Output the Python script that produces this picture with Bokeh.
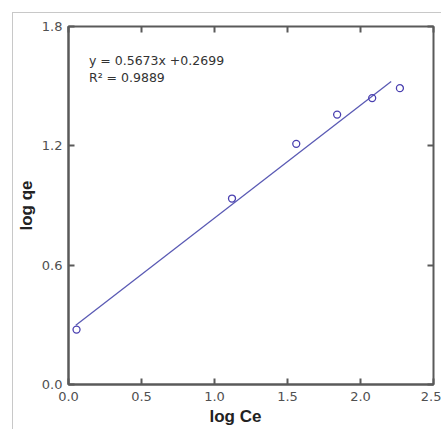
from bokeh.plotting import figure
from bokeh.models import Range1d, FixedTicker, NumeralTickFormatter, LinearAxis, Title
from bokeh.embed import file_html
from bokeh.resources import INLINE
from bokeh.core.properties import value

# data
log_ce = [0.055, 1.12, 1.56, 1.84, 2.08, 2.27]
log_qe = [0.276, 0.935, 1.21, 1.357, 1.44, 1.49]
slope = 0.5673
intercept = 0.2699
fit_x = [0.05, 2.21]
fit_y = [slope * v + intercept for v in fit_x]
x_ticks = [0.0, 0.5, 1.0, 1.5, 2.0, 2.5]
y_ticks = [0.0, 0.6, 1.2, 1.8]
eq_text = "y = 0.5673x +0.2699"
r2_text = "R² = 0.9889"

FONT = "Liberation Sans"
TFONT = "DejaVu Sans"
AX = "#5a5a5a"

p = figure(width=429, height=417, output_backend="svg", toolbar_location=None,
           x_range=Range1d(0, 2.5), y_range=Range1d(0, 1.8),
           min_border_left=55, min_border_top=13, min_border_right=9, min_border_bottom=46,
           margin=(12, 0, 0, 12),
           styles={"border-left": "1px solid #c8c8c8", "border-top": "1px solid #c8c8c8"})
p.grid.visible = False
p.outline_line_color = AX
p.outline_line_width = 2
p.background_fill_color = "white"
p.border_fill_color = "white"

for ax in (p.xaxis[0], p.yaxis[0]):
    ax.major_tick_in = 6
    ax.major_tick_out = 0
    ax.minor_tick_line_color = None
    ax.axis_line_color = AX
    ax.axis_line_width = 2
    ax.major_tick_line_color = AX
    ax.major_tick_line_width = 2
    ax.major_label_text_font = TFONT
    ax.major_label_text_font_size = "13px"
    ax.major_label_text_color = "#505050"
    ax.formatter = NumeralTickFormatter(format="0.0")
    ax.axis_label_text_font = FONT
    ax.axis_label_text_font_style = "bold"
    ax.axis_label_text_font_size = "17px"
    ax.axis_label_text_color = "#222222"

p.xaxis[0].ticker = FixedTicker(ticks=x_ticks)
p.yaxis[0].ticker = FixedTicker(ticks=y_ticks)
p.yaxis[0].axis_label = "log qe"
p.xaxis[0].major_label_standoff = 7
p.yaxis[0].major_label_standoff = 6
p.yaxis[0].axis_label_standoff = 3

xlabel = Title(text="log Ce", align="left", offset=141, text_font=FONT,
               text_font_style="bold", text_font_size="17px", text_color="#222222",
               standoff=3)
p.add_layout(xlabel, "below")

top = LinearAxis(ticker=FixedTicker(ticks=x_ticks))
right = LinearAxis(ticker=FixedTicker(ticks=y_ticks))
for ax in (top, right):
    ax.major_tick_in = 6
    ax.major_tick_out = 0
    ax.minor_tick_line_color = None
    ax.axis_line_color = None
    ax.major_tick_line_color = AX
    ax.major_tick_line_width = 2
    ax.major_label_text_font_size = "0px"
    ax.major_label_text_color = None
    ax.major_label_standoff = 0
p.add_layout(top, "above")
p.add_layout(right, "right")

p.line(fit_x, fit_y, line_color="#5a5ab4", line_width=1.3)
p.scatter(log_ce, log_qe, marker="circle", size=7, fill_color=None,
          line_color="#4a40b0", line_width=1.3)

p.text(x=[0.14], y=[1.665], text=[eq_text], text_font=value(TFONT), text_font_size="12.5px",
       text_color="#333333", text_baseline="top")
p.text(x=[0.14], y=[1.58], text=[r2_text], text_font=value(TFONT), text_font_size="12.5px",
       text_color="#333333", text_baseline="top")

open("out.html", "w").write(file_html(p, INLINE))
